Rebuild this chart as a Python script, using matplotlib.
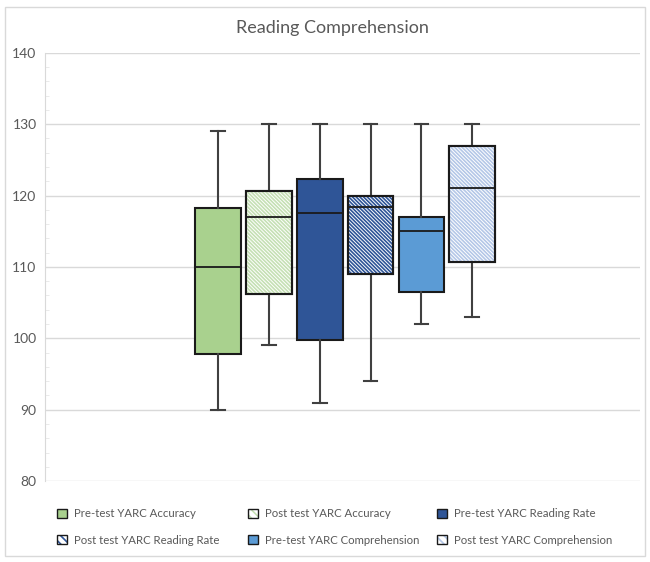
import matplotlib.pyplot as plt
from matplotlib.patches import PathPatch, Patch, Rectangle

plt.rcParams['font.family'] = ['Lato', 'DejaVu Sans']
plt.rcParams['hatch.linewidth'] = 1.2

labels = ['Pre-test YARC Accuracy', 'Post test YARC Accuracy', 'Pre-test YARC Reading Rate',
          'Post test YARC Reading Rate', 'Pre-test YARC Comprehension', 'Post test YARC Comprehension']
whislo = [90, 99, 91, 94, 102, 103]
q1 = [97.8, 106.2, 99.8, 109, 106.5, 110.7]
med = [110, 117, 117.5, 118.4, 115, 121]
q3 = [118.2, 120.7, 122.3, 120, 117, 127]
whishi = [129, 130, 130, 130, 130, 130]

faces = ['#A9D18E', 'white', '#2F5597', 'white', '#5B9BD5', 'white']
hatch_cols = [None, '#C5E0B4', None, '#2F5597', None, '#B4C7E7']
HATCH = '\\' * 9

stats = []
for i in range(len(labels)):
    stats.append(dict(label=labels[i], whislo=whislo[i], q1=q1[i], med=med[i],
                      q3=q3[i], whishi=whishi[i], fliers=[]))

fig = plt.figure(figsize=(6.5, 5.62), dpi=100)
ax = fig.add_axes([0.069, 0.144, 0.916, 0.762])

pos = list(range(1, 7))
bp = ax.bxp(stats, positions=pos, widths=0.9, capwidths=0.27, patch_artist=True,
            showfliers=False,
            boxprops=dict(edgecolor='#1a1a1a', linewidth=1.5),
            medianprops=dict(color='#1a1a1a', linewidth=1.3),
            whiskerprops=dict(color='#404040', linewidth=1.5),
            capprops=dict(color='#404040', linewidth=1.5))

for i, box in enumerate(bp['boxes']):
    box.set_facecolor(faces[i])
    box.set_zorder(2)
    if hatch_cols[i]:
        h = PathPatch(box.get_path(), transform=box.get_transform(), facecolor='none',
                      edgecolor=hatch_cols[i], hatch=HATCH, linewidth=0, zorder=2.1)
        ax.add_patch(h)
        # outline again on top of the hatch
        ax.add_patch(PathPatch(box.get_path(), transform=box.get_transform(), facecolor='none',
                               edgecolor='#1a1a1a', linewidth=1.5, zorder=2.2))
for m in bp['medians']:
    m.set_zorder(3)

ax.set_xlim(-2.4, 9.3)
ax.set_ylim(80, 140)
ax.set_yticks(range(80, 141, 10))
ax.set_yticks(range(80, 141, 2), minor=True)
ax.set_xticks([])
ax.yaxis.grid(True, color='#d9d9d9', linewidth=1)
ax.set_axisbelow(True)
for s in ['top', 'right', 'bottom']:
    ax.spines[s].set_visible(False)
ax.spines['left'].set_color('#d9d9d9')
ax.tick_params(axis='y', which='major', length=0, labelsize=10, labelcolor='#595959', pad=6)
ax.tick_params(axis='y', which='minor', length=3, color='#e6e6e6', direction='in')

fig.text(0.512, 0.95, 'Reading Comprehension', ha='center', va='center',
         fontsize=13, color='#595959')

# legend: three columns placed by hand, two rows each
handles = []
for i in range(len(labels)):
    if hatch_cols[i]:
        handles.append((Patch(facecolor='white', edgecolor=hatch_cols[i], hatch='\\\\\\\\',
                              linewidth=0),
                        Patch(facecolor='none', edgecolor='#1a1a1a', linewidth=1)))
    else:
        handles.append(Patch(facecolor=faces[i], edgecolor='#1a1a1a', linewidth=1))

col_x = [57 / 650, 248 / 650, 437 / 650]
for c in range(3):
    hs = [handles[c], handles[c + 3]]
    ls = [labels[c], labels[c + 3]]
    leg = fig.legend(hs, ls, loc='center left', bbox_to_anchor=(col_x[c], 1 - 527 / 562),
                     frameon=False, fontsize=8.2, handlelength=0.9, handleheight=0.9,
                     handletextpad=0.6, labelspacing=1.35, borderpad=0, borderaxespad=0)
    for t in leg.get_texts():
        t.set_color('#595959')

fig.patches.append(Rectangle((0.008, 0.01), 0.985, 0.978, transform=fig.transFigure,
                             fill=False, edgecolor='#d9d9d9', linewidth=1))

fig.savefig('out.png', dpi=100)
